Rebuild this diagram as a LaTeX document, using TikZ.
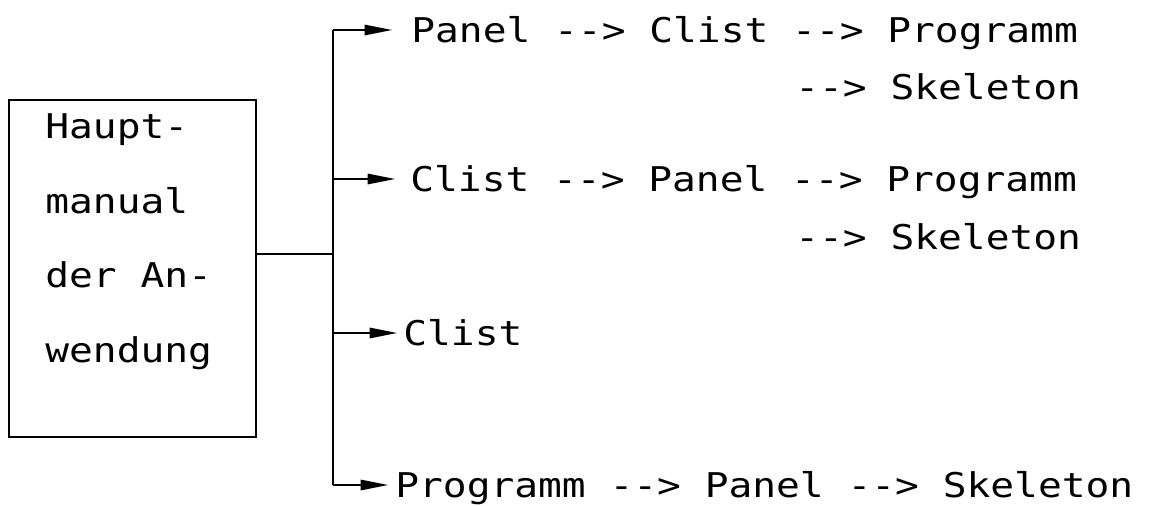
\documentclass[tikz,border=0pt]{standalone}
\usepackage{fontspec}
\newfontfamily\plotfont[FakeStretch=1.16]{DejaVu Sans Mono}
\usetikzlibrary{arrows.meta}
\begin{document}
\begin{tikzpicture}[x=0.02cm,y=-0.02cm]
        \tikzstyle{frame}=[draw,line width=0.9pt,minimum width=4.94cm,minimum height=6.74cm,inner sep=0pt]
        \tikzstyle{word}=[font=\plotfont\fontsize{19.4pt}{23pt}\selectfont,inner sep=0pt]
        \tikzstyle{row}=[word,anchor=west,text height=0.5cm,text depth=0pt]
        \tikzstyle{wire}=[draw,line width=0.9pt]
        \tikzstyle{feed}=[wire,-{Triangle[length=0.55cm,width=0.21cm]}]
        \useasboundingbox (0,0) rectangle (1150,506);
        \begin{scope}
           \node [frame] (main) at (132.5,268.5) {};
           \node [word,anchor=base west] (h1) at (45,139) {Haupt-};
           \node [word,anchor=base west] (h2) at (45,214) {manual};
           \node [word,anchor=base west] (h3) at (45,288) {der An-};
           \node [word,anchor=base west] (h4) at (45,363) {wendung};
           \coordinate (bus) at (333,254);
           \node [row] (r1) at (411,30) {Panel --> Clist --> Programm};
           \node [row] (r1b) at (795,87) {--> Skeleton};
           \node [row] (r2) at (410,179) {Clist --> Panel --> Programm};
           \node [row] (r2b) at (795,237) {--> Skeleton};
           \node [row] (r3) at (403,333) {Clist};
           \node [row] (r4) at (395,485) {Programm --> Panel --> Skeleton};
           \path[wire] (main.east |- bus) -- (bus);
           \path[wire] (r1.west -| bus) -- (r4.west -| bus);
           \path[feed,shorten >=0.38cm] (r1.west -| bus) -- (r1.west);
           \path[feed,shorten >=0.3cm] (r2.west -| bus) -- (r2.west);
           \path[feed,shorten >=0.12cm] (r3.west -| bus) -- (r3.west);
           \path[feed,shorten >=0.14cm] (r4.west -| bus) -- (r4.west);
        \end{scope}
\end{tikzpicture}
\end{document}
